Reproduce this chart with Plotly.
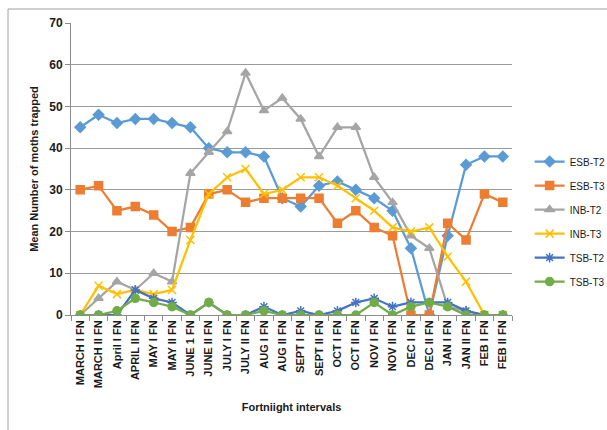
import plotly.graph_objects as go

categories = ["MARCH I FN", "MARCH II FN", "April I FN", "APRIL II FN", "MAY I FN", "MAY II FN",
              "JUNE 1 FN", "JUNE II FN", "JULY I FN", "JULY II FN", "AUG I FN", "AUG II FN",
              "SEPT I FN", "SEPT II FN", "OCT I FN", "OCT II FN", "NOV I FN", "NOV II FN",
              "DEC I FN", "DEC II FN", "JAN I FN", "JAN II FN", "FEB I FN", "FEB II FN"]

esb_t2 = [45, 48, 46, 47, 47, 46, 45, 40, 39, 39, 38, 28, 26, 31, 32, 30, 28, 25, 16, 0, 19, 36, 38, 38]
esb_t3 = [30, 31, 25, 26, 24, 20, 21, 29, 30, 27, 28, 28, 28, 28, 22, 25, 21, 19, 0, 0, 22, 18, 29, 27]
inb_t2 = [0, 4, 8, 6, 10, 8, 34, 39, 44, 58, 49, 52, 47, 38, 45, 45, 33, 27, 19, 16, 2, 1, 0, 0]
inb_t3 = [0, 7, 5, 6, 5, 6, 18, 29, 33, 35, 29, 30, 33, 33, 31, 28, 25, 21, 20, 21, 14, 8, 0, 0]
tsb_t2 = [0, 0, 0, 6, 4, 3, 0, 3, 0, 0, 2, 0, 1, 0, 1, 3, 4, 2, 3, 3, 3, 1, 0, 0]
tsb_t3 = [0, 0, 1, 4, 3, 2, 0, 3, 0, 0, 1, 0, 0, 0, 0, 0, 3, 0, 2, 3, 2, 0, 0, 0]

series = [
    ("ESB-T2", esb_t2, "#5B9BD5", "diamond", 8),
    ("ESB-T3", esb_t3, "#ED7D31", "square", 8),
    ("INB-T2", inb_t2, "#A5A5A5", "triangle-up", 8),
    ("INB-T3", inb_t3, "#FFC000", "x-thin-open", 8),
    ("TSB-T2", tsb_t2, "#4472C4", "asterisk-open", 8),
    ("TSB-T3", tsb_t3, "#70AD47", "circle", 8),
]

fig = go.Figure()
for i, (name, vals, color, sym, size) in enumerate(series):
    fig.add_trace(go.Scatter(
        x=categories, y=vals, name=name, mode="lines+markers",
        line=dict(color=color, width=2.25),
        marker=dict(symbol=sym, size=size, color=color,
                    line=dict(color=color, width=1.5)),
        legendgroup=f"g{i}",
    ))

font_family = "Liberation Sans, Arial, sans-serif"

fig.update_layout(
    width=607, height=430,
    margin=dict(l=71, r=95, t=23, b=115, autoexpand=False),
    paper_bgcolor="white", plot_bgcolor="white",
    font=dict(family=font_family, size=11, color="#1a1a1a"),
    showlegend=True,
    legend=dict(
        x=1.04, xanchor="left", y=0.575, yanchor="top",
        font=dict(size=10, family=font_family, color="#1a1a1a"),
        traceorder="grouped", tracegroupgap=5,
        bgcolor="rgba(0,0,0,0)", itemwidth=30,
    ),
    xaxis=dict(
        type="category", showgrid=False, showline=True,
        linecolor="#8c8c8c", linewidth=1,
        ticks="outside", tickson="boundaries", ticklen=5, tickcolor="#8c8c8c",
        tickangle=-90, tickfont=dict(size=11, family=font_family, color="#1a1a1a"),
        title=dict(text="<b>Fortniight intervals</b>", font=dict(size=11), standoff=16),
        range=[-0.5, 23.5], zeroline=False,
    ),
    yaxis=dict(
        range=[0, 70], dtick=10, showgrid=True, gridcolor="#9a9a9a", gridwidth=1,
        showline=True, linecolor="#8c8c8c", linewidth=1,
        ticks="outside", ticklen=5, tickcolor="#8c8c8c",
        tickfont=dict(size=12, family=font_family, color="#1a1a1a"),
        title=dict(text="<b>Mean Number of moths trapped</b>", font=dict(size=11), standoff=8),
        zeroline=False,
    ),
)

# bold tick labels
fig.update_xaxes(ticktext=[f"<b>{c}</b>" for c in categories], tickvals=categories)
fig.update_yaxes(tickvals=list(range(0, 71, 10)), ticktext=[f"<b>{v}</b>" for v in range(0, 71, 10)])

# outer chart border (left and top edges visible)
fig.add_shape(type="rect", xref="paper", yref="paper",
              x0=(8 - 71) / 441, x1=(620 - 71) / 441,
              y0=(315 - 440) / 292, y1=(315 - 9) / 292,
              line=dict(color="#a0a0a0", width=1), fillcolor="rgba(0,0,0,0)", layer="below")

fig.write_html("out.html")
